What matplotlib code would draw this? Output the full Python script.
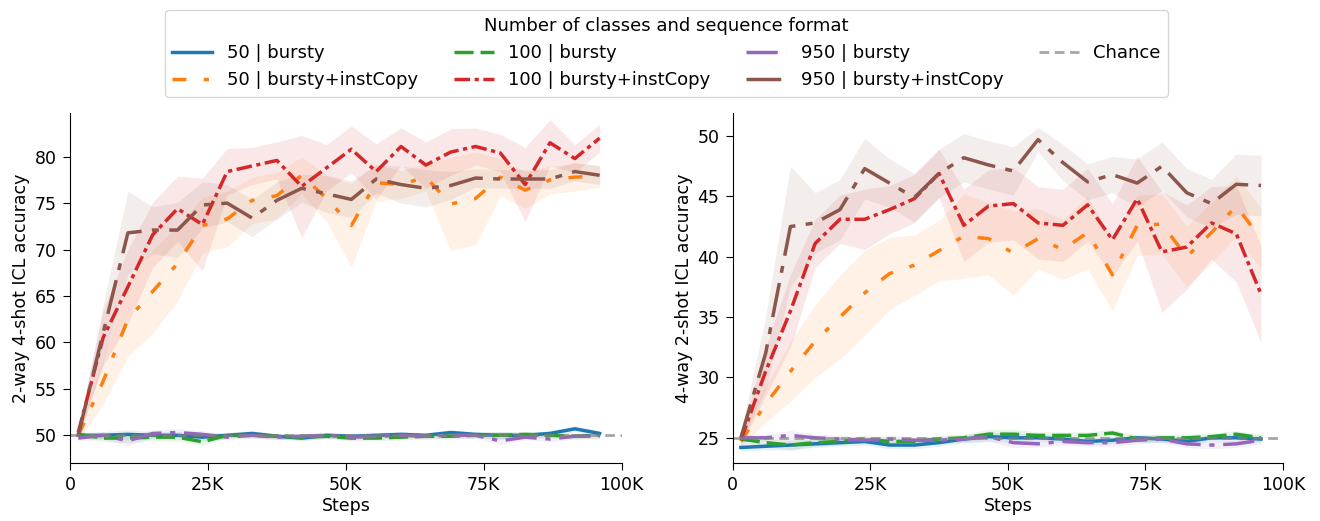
import matplotlib
matplotlib.use("Agg")
import matplotlib.pyplot as plt
import numpy as np

steps = [1500, 6000, 10500, 15000, 19500, 24000, 28500, 33000, 37500, 42000, 46500,
         51000, 55500, 60000, 64500, 69000, 73500, 78000, 82500, 87000, 91500, 96000]

labels = ["50 | bursty", "50 | bursty+instCopy", "100 | bursty",
          "100 | bursty+instCopy", "950 | bursty", "950 | bursty+instCopy"]
colors = ["#1f77b4", "#ff7f0e", "#2ca02c", "#d62728", "#9467bd", "#8c564b"]
dash_styles = [None, (4, 5, 1.5, 5), (5.5, 2), (4.5, 1.3, 1.2, 1.3), (9, 2.5, 1.5, 2.5), (10, 3, 2, 3)]

# ---- left panel: 2-way 4-shot ----
blue_L = [50.0, 50.0, 50.1, 50.0, 50.0, 49.8, 50.0, 50.2, 49.9, 49.7, 50.0, 49.9, 50.0, 50.1, 50.0, 50.3, 50.1, 50.0, 50.0, 50.2, 50.7, 50.2]
orange_L = [50.0, 55.8, 62.5, 65.5, 68.5, 72.6, 73.3, 75.3, 75.8, 78.0, 75.5, 72.6, 77.2, 77.0, 77.8, 74.9, 75.5, 77.8, 76.4, 77.5, 77.8, 77.9]
green_L = [50.1, 49.7, 49.7, 49.8, 49.8, 49.3, 50.0, 50.0, 49.9, 49.8, 49.9, 49.7, 49.7, 49.8, 49.9, 49.9, 50.0, 50.0, 50.1, 50.0, 49.9, 50.0]
red_L = [50.3, 60.5, 66.0, 71.6, 74.4, 72.7, 78.4, 79.0, 79.6, 76.8, 78.8, 80.8, 78.4, 81.1, 79.1, 80.5, 81.1, 80.4, 77.0, 81.5, 79.8, 82.0]
purple_L = [49.7, 50.0, 49.4, 50.2, 50.3, 50.1, 49.8, 50.0, 49.8, 49.9, 50.0, 49.8, 49.9, 50.0, 49.9, 50.0, 50.0, 49.4, 49.8, 49.6, 49.9, 49.9]
brown_L = [50.0, 61.0, 71.8, 72.1, 72.1, 74.8, 75.0, 73.4, 75.3, 76.6, 76.0, 75.4, 77.6, 77.0, 76.6, 76.9, 77.7, 77.6, 77.6, 77.6, 78.4, 78.0]

low_err_L = [0.3, 0.4, 0.5, 0.4, 0.4, 0.4, 0.3, 0.3, 0.3, 0.3, 0.3, 0.3, 0.3, 0.3, 0.3, 0.3, 0.3, 0.4, 0.3, 0.3, 0.3, 0.3]
orange_err_L = [0.5, 2.5, 4.0, 4.5, 4.0, 3.0, 3.0, 2.5, 2.5, 2.0, 2.5, 4.5, 2.0, 1.5, 1.5, 5.0, 5.0, 2.0, 2.0, 1.5, 1.5, 1.2]
red_err_L = [0.5, 3.0, 4.0, 3.5, 3.5, 5.0, 2.5, 2.0, 2.0, 5.5, 2.5, 2.5, 3.0, 2.0, 2.5, 2.5, 2.0, 2.0, 4.0, 2.5, 1.5, 1.5]
brown_err_L = [0.5, 3.0, 4.5, 2.5, 3.0, 2.5, 2.0, 2.0, 2.0, 1.5, 2.0, 2.0, 1.5, 2.0, 2.0, 1.5, 1.0, 1.0, 1.0, 1.0, 1.0, 1.0]

# ---- right panel: 4-way 2-shot ----
blue_R = [24.2, 24.3, 24.4, 24.5, 24.6, 24.7, 24.4, 24.4, 24.6, 24.9, 25.1, 25.0, 25.0, 24.9, 24.7, 24.8, 25.0, 24.9, 24.7, 25.0, 25.0, 24.9]
orange_R = [24.7, 27.8, 30.5, 33.0, 35.0, 37.0, 38.6, 39.3, 40.5, 41.7, 41.5, 40.3, 41.5, 40.6, 42.0, 38.5, 42.6, 42.7, 40.0, 42.0, 44.2, 41.5]
green_R = [24.9, 24.6, 24.4, 24.6, 24.7, 24.9, 24.7, 24.7, 24.9, 25.0, 25.3, 25.3, 25.2, 25.2, 25.2, 25.4, 24.9, 25.0, 25.0, 25.1, 25.3, 25.0]
red_R = [24.8, 30.5, 35.5, 41.1, 43.1, 43.1, 43.9, 44.8, 46.9, 42.6, 44.2, 44.4, 42.8, 42.6, 44.3, 41.4, 44.8, 40.4, 40.8, 42.8, 41.9, 36.9]
purple_R = [25.0, 25.0, 25.2, 25.0, 24.9, 24.8, 24.9, 24.8, 24.8, 24.9, 25.1, 24.6, 24.5, 24.7, 24.6, 24.6, 24.8, 24.9, 24.5, 24.4, 24.5, 24.8]
brown_R = [25.0, 32.0, 42.5, 42.8, 43.9, 47.3, 46.1, 44.9, 46.9, 48.2, 47.6, 47.1, 49.7, 47.8, 46.2, 46.8, 46.1, 47.5, 45.3, 44.4, 46.0, 45.9]

low_err_R = [0.3, 0.3, 0.4, 0.3, 0.3, 0.3, 0.3, 0.3, 0.3, 0.3, 0.4, 0.4, 0.3, 0.3, 0.3, 0.3, 0.3, 0.3, 0.3, 0.3, 0.3, 0.3]
orange_err_R = [0.5, 1.5, 2.5, 3.0, 3.5, 3.5, 3.0, 2.5, 2.5, 3.5, 3.0, 3.5, 2.5, 2.5, 3.0, 3.0, 2.5, 2.5, 2.5, 2.5, 2.5, 2.5]
red_err_R = [0.5, 2.0, 3.0, 2.0, 2.0, 2.5, 2.0, 2.0, 2.0, 3.0, 3.0, 3.0, 3.0, 3.0, 3.0, 3.0, 3.5, 5.0, 3.5, 3.0, 4.0, 4.0]
brown_err_R = [0.5, 3.0, 5.0, 2.5, 2.5, 2.5, 2.0, 2.0, 2.0, 2.0, 2.0, 2.0, 1.0, 1.5, 1.5, 1.5, 2.0, 2.0, 2.0, 2.0, 2.5, 2.5]

xtick_vals = [0, 25000, 50000, 75000, 100000]
xtick_labels = ["0", "25K", "50K", "75K", "100K"]

plt.rcParams['font.family'] = ['DejaVu Sans']
plt.rcParams['font.size'] = 12.5

fig = plt.figure(figsize=(13.2, 5.21), dpi=100)
axL = fig.add_axes([0.053, 0.111, 0.418, 0.672])
axR = fig.add_axes([0.555, 0.111, 0.417, 0.672])

panels = [
    (axL, [blue_L, orange_L, green_L, red_L, purple_L, brown_L],
     [low_err_L, orange_err_L, low_err_L, red_err_L, low_err_L, brown_err_L],
     50, (47.0, 84.7), [50, 55, 60, 65, 70, 75, 80], "2-way 4-shot ICL accuracy"),
    (axR, [blue_R, orange_R, green_R, red_R, purple_R, brown_R],
     [low_err_R, orange_err_R, low_err_R, red_err_R, low_err_R, brown_err_R],
     25, (22.9, 51.9), [25, 30, 35, 40, 45, 50], "4-way 2-shot ICL accuracy"),
]

handles = []
for ax, series, errs, chance, ylim, yticks, ylabel in panels:
    x = np.array(steps)
    hs = []
    for i, (vals, err) in enumerate(zip(series, errs)):
        v = np.array(vals)
        e = np.array(err)
        ax.fill_between(x, v - e, v + e, color=colors[i], alpha=0.1, linewidth=0)
        if dash_styles[i] is None:
            h, = ax.plot(x, v, color=colors[i], lw=2.5, label=labels[i])
        else:
            h, = ax.plot(x, v, color=colors[i], lw=2.5, dashes=dash_styles[i], label=labels[i])
        hs.append(h)
    hc = ax.axhline(chance, color="gray", alpha=0.7, lw=2, dashes=(3.5, 2), label="Chance")
    hs.append(hc)
    handles = hs
    ax.set_xlim(0, 100000)
    ax.set_ylim(*ylim)
    ax.set_yticks(yticks)
    ax.set_xticks(xtick_vals)
    ax.set_xticklabels(xtick_labels)
    ax.tick_params(length=5, pad=4.5)
    ax.set_xlabel("Steps", labelpad=2)
    ax.set_ylabel(ylabel, labelpad=3)
    ax.spines['top'].set_visible(False)
    ax.spines['right'].set_visible(False)

fig.legend(handles,
           [labels[0], labels[1], labels[2], labels[3], labels[4], labels[5], "Chance"],
           loc="upper center", bbox_to_anchor=(0.505, 0.998), ncol=4,
           title="Number of classes and sequence format", fontsize=13, title_fontsize=13,
           handlelength=2.2, borderpad=0.4, labelspacing=0.5)

fig.savefig("out.png", dpi=100)
